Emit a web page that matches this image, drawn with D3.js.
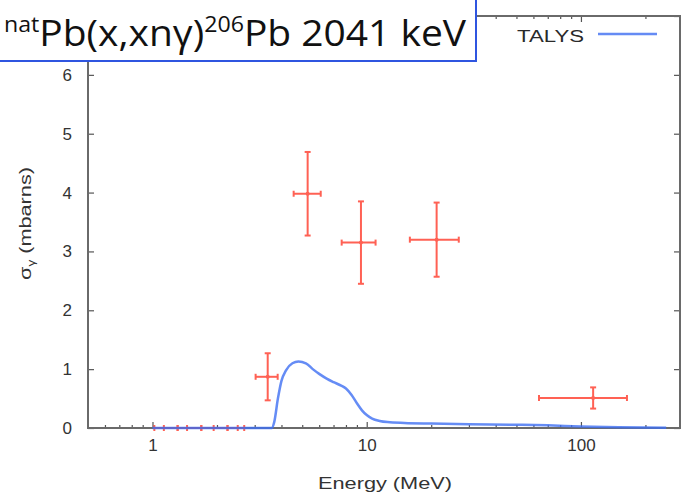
<!DOCTYPE html>
<html>
<head>
<meta charset="utf-8">
<style>
  html, body { margin:0; padding:0; background:#fff; overflow:hidden; }
  svg { display:block; font-family:"Liberation Sans", Arial, sans-serif; }
  .tick text { fill:#333; font-size:17px; }
  .tick line { stroke:#555; stroke-width:1.2; }
</style>
</head>
<body>
<svg id="chart" width="681" height="496"></svg>
<script src="https://cdn.jsdelivr.net/npm/d3@7/dist/d3.min.js"></script>
<script>
// measured points (MeV, mb)
const expE   = [3.45, 5.3, 9.4, 21.2, 114];
const expLo  = [3.03, 4.56, 7.64, 15.9, 63.7];
const expHi  = [3.84, 6.1, 11.0, 26.9, 164];
const expY   = [0.87, 3.98, 3.15, 3.20, 0.51];
const expErr = [0.40, 0.71, 0.70, 0.63, 0.18];

// points at zero below threshold
const zeroE  = [1.13, 1.45, 1.93, 2.5];
const zeroLo = [1.02, 1.31, 1.69, 2.24];
const zeroHi = [1.31, 1.69, 2.24, 2.68];

// TALYS curve
const talysE = [1, 3.6, 3.7, 3.85, 4.0, 4.2, 4.5, 4.8, 5.2, 5.6, 6.0, 6.5, 7.0, 7.6, 8.0, 8.5, 9.0, 9.5, 10, 10.6, 11.5, 12.5, 15, 20, 30, 50, 70, 100, 150, 250];
const talysY = [0, 0, 0.1, 0.5, 0.8, 0.98, 1.1, 1.13, 1.1, 1.0, 0.92, 0.84, 0.78, 0.72, 0.67, 0.56, 0.42, 0.3, 0.22, 0.16, 0.12, 0.1, 0.085, 0.075, 0.065, 0.055, 0.045, 0.025, 0.012, 0.005];

const xMajor = [1, 10, 100];
const xMinor = [0.6, 0.7, 0.8, 0.9, 2, 3, 4, 5, 6, 7, 8, 9, 20, 30, 40, 50, 60, 70, 80, 90, 200];
const yTicks = [0, 1, 2, 3, 4, 5, 6, 7];

const svg = d3.select("#chart");
const mLeft = 88, mRight = 680, mTop = 16, mBottom = 428;

const x = d3.scaleLog().domain([0.5, 290]).range([mLeft, mRight]);
const y = d3.scaleLinear().domain([0, 7]).range([mBottom, mTop]);

// axes (gnuplot style, inward ticks, mirrored)
svg.append("g").attr("transform", `translate(0,${mBottom})`)
  .call(d3.axisBottom(x).tickValues(xMajor).tickFormat(d3.format("d")).tickSize(-6).tickPadding(11));
svg.append("g").attr("transform", `translate(0,${mBottom})`)
  .call(d3.axisBottom(x).tickValues(xMinor).tickFormat("").tickSize(-3));
svg.append("g").attr("transform", `translate(0,${mTop})`)
  .call(d3.axisTop(x).tickValues(xMajor).tickFormat("").tickSize(-6));
svg.append("g").attr("transform", `translate(0,${mTop})`)
  .call(d3.axisTop(x).tickValues(xMinor).tickFormat("").tickSize(-3));
svg.append("g").attr("transform", `translate(${mLeft},0)`)
  .call(d3.axisLeft(y).tickValues(yTicks).tickFormat(d => d === 7 ? "" : d).tickSize(-6).tickPadding(16));
svg.append("g").attr("transform", `translate(${mRight},0)`)
  .call(d3.axisRight(y).tickValues(yTicks).tickFormat("").tickSize(-6));
svg.selectAll(".domain").remove();

svg.append("rect")
  .attr("x", mLeft).attr("y", mTop)
  .attr("width", mRight - mLeft).attr("height", mBottom - mTop)
  .attr("fill", "none").attr("stroke", "#6a6a6a").attr("stroke-width", 2);

// axis titles
svg.append("text")
  .attr("x", 318).attr("y", 489)
  .attr("fill", "#333").style("font-size", "16px")
  .attr("textLength", 134).attr("lengthAdjust", "spacingAndGlyphs")
  .text("Energy (MeV)");

const yl = svg.append("text")
  .attr("transform", "translate(31,280) rotate(-90)")
  .attr("fill", "#333").style("font-size", "16px")
  .attr("textLength", 113).attr("lengthAdjust", "spacingAndGlyphs");
yl.append("tspan").text("σ");
yl.append("tspan").attr("dy", 4).style("font-size", "10px").text("γ");
yl.append("tspan").attr("dy", -4).text(" (mbarns)");

// TALYS
const line = d3.line()
  .x((d, i) => x(talysE[i]))
  .y(d => y(d))
  .curve(d3.curveMonotoneX);

// zero points (drawn under the curve)
const red = "#ff3a2a";
const zg = svg.append("g").attr("stroke", red).attr("stroke-width", 2).attr("opacity", 0.8);
zeroE.forEach((e, i) => {
  zg.append("line").attr("x1", x(zeroLo[i])).attr("x2", x(zeroHi[i])).attr("y1", y(0)).attr("y2", y(0));
  [zeroLo[i], zeroE[i], zeroHi[i]].forEach(v => {
    zg.append("line").attr("x1", x(v)).attr("x2", x(v)).attr("y1", y(0) - 3).attr("y2", y(0) + 3);
  });
});

svg.append("path")
  .datum(talysY)
  .attr("d", line)
  .attr("fill", "none")
  .attr("stroke", "#3f6ff2")
  .attr("stroke-width", 2.5)
  .attr("opacity", 0.8);

// measured points with error bars
const eg = svg.append("g").attr("stroke", red).attr("stroke-width", 2).attr("opacity", 0.8);
expE.forEach((e, i) => {
  const cx = x(e), cy = y(expY[i]);
  const yt = y(expY[i] + expErr[i]), yb = y(expY[i] - expErr[i]);
  const xl = x(expLo[i]), xr = x(expHi[i]);
  eg.append("line").attr("x1", xl).attr("x2", xr).attr("y1", cy).attr("y2", cy);
  eg.append("line").attr("x1", cx).attr("x2", cx).attr("y1", yt).attr("y2", yb);
  eg.append("line").attr("x1", cx - 3).attr("x2", cx + 3).attr("y1", yt).attr("y2", yt);
  eg.append("line").attr("x1", cx - 3).attr("x2", cx + 3).attr("y1", yb).attr("y2", yb);
  eg.append("line").attr("x1", xl).attr("x2", xl).attr("y1", cy - 3).attr("y2", cy + 3);
  eg.append("line").attr("x1", xr).attr("x2", xr).attr("y1", cy - 3).attr("y2", cy + 3);
  eg.append("circle").attr("cx", cx).attr("cy", cy).attr("r", 2).attr("fill", red).attr("stroke", "none");
});

// legend
svg.append("text")
  .attr("x", 517).attr("y", 42)
  .attr("fill", "#2a2a2a").style("font-size", "16px")
  .attr("textLength", 67).attr("lengthAdjust", "spacingAndGlyphs")
  .text("TALYS");
svg.append("line")
  .attr("x1", 598).attr("x2", 657).attr("y1", 34).attr("y2", 34)
  .attr("stroke", "#3f6ff2").attr("stroke-width", 2.5).attr("opacity", 0.8);

// title box
svg.append("rect")
  .attr("x", -2).attr("y", -2).attr("width", 478).attr("height", 63)
  .attr("fill", "#fff").attr("stroke", "#2f55e0").attr("stroke-width", 2);

const t = svg.append("text")
  .attr("x", 4).attr("y", 46)
  .attr("fill", "#111")
  .style("font-family", "'Open Sans', 'Liberation Sans', sans-serif")
  .style("font-size", "37px")
  .attr("textLength", 462).attr("lengthAdjust", "spacingAndGlyphs");
t.append("tspan").attr("dy", -14).style("font-size", "22px").text("nat");
t.append("tspan").attr("dy", 14).text("Pb(x,xnγ)");
t.append("tspan").attr("dy", -14).style("font-size", "22px").text("206");
t.append("tspan").attr("dy", 14).text("Pb 2041 keV");
</script>
</body>
</html>
